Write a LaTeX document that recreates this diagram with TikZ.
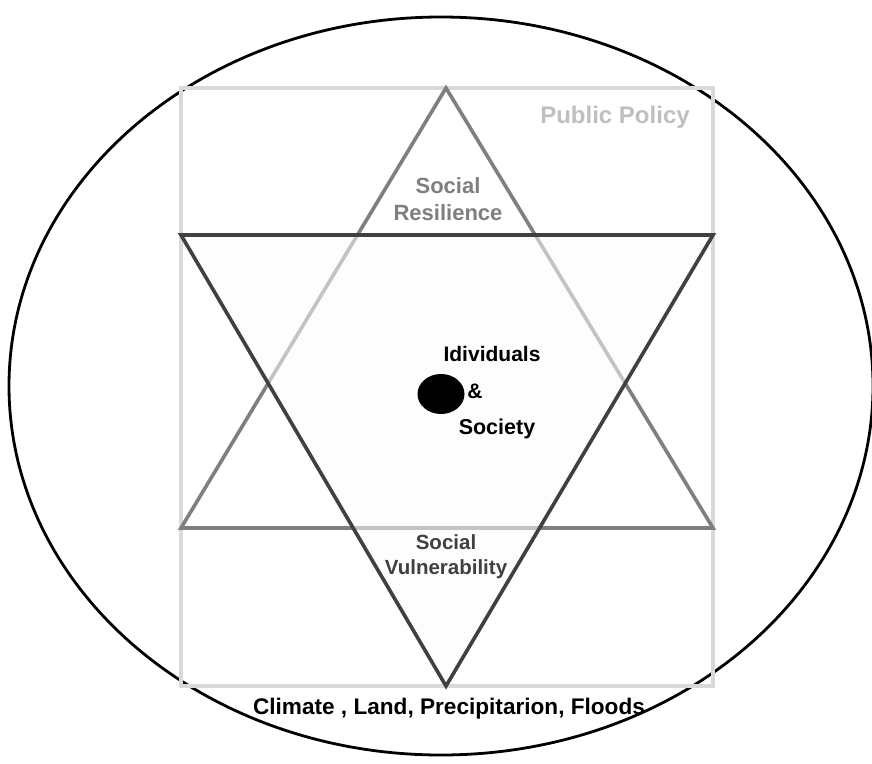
\documentclass[tikz,border=0pt]{standalone}
\usepackage{fontspec}
\setmainfont{Liberation Sans}
\usetikzlibrary{shapes.geometric}
\definecolor{boxgray}{HTML}{D9D9D9}
\definecolor{midgray}{HTML}{7F7F7F}
\definecolor{darkgray}{HTML}{404040}
\definecolor{lightgray}{HTML}{BFBFBF}
\tikzset{
  outer/.style={draw=black, line width=2.8pt},
  policybox/.style={draw=boxgray, line width=4.5pt},
  uptri/.style={draw=midgray, line width=3.6pt},
  downtri/.style={draw=darkgray, line width=3.6pt, fill=black!1, fill opacity=0.55},
  lbl/.style={align=center, inner sep=0pt},
}
\begin{document}
\begin{tikzpicture}[x=1pt,y=-1pt]
\useasboundingbox (0,0) rectangle (872,763);
\clip (0,0) rectangle (872,763);
\fill[white] (0,0) rectangle (872,763);
\node[ellipse, outer, minimum width=864pt, minimum height=738pt, inner sep=0pt] (world) at (441,386) {};
\node[policybox, rectangle, minimum width=532pt, minimum height=598pt, inner sep=0pt] (policy) at (447,387) {};
\coordinate (ua) at (446,88);
\coordinate (ul) at (181,528);
\coordinate (ur) at (713,528);
\coordinate (dl) at (181,235);
\coordinate (dr) at (713,235);
\coordinate (db) at (446,686);
\draw[uptri] (ua) -- (ur) -- (ul) -- cycle;
\draw[downtri] (dl) -- (dr) -- (db) -- cycle;
\node[lbl, text=lightgray, font=\bfseries\fontsize{24}{28}\selectfont] (pp) at (615,117) {Public Policy};
\node[lbl, text=midgray, font=\bfseries\fontsize{22}{27}\selectfont] (sr) at (448,199) {Social\\Resilience};
\node[lbl, text=darkgray, font=\bfseries\fontsize{20.5}{25}\selectfont] (sv) at (446,557) {Social\\Vulnerability};
\node[ellipse, fill=black, minimum width=47pt, minimum height=40pt, inner sep=0pt] (dot) at (441,394) {};
\node[lbl, text=black, font=\bfseries\fontsize{21}{24}\selectfont] (ind) at (492,354) {Idividuals};
\node[lbl, text=black, font=\bfseries\fontsize{21}{24}\selectfont] (amp) at (475,391) {\&};
\node[lbl, text=black, font=\bfseries\fontsize{21.5}{24}\selectfont] (soc) at (497,429) {Society};
\node[lbl, text=black, font=\bfseries\fontsize{22.6}{26}\selectfont] (clim) at (449,709) {Climate , Land, Precipitarion, Floods};
\end{tikzpicture}
\end{document}
